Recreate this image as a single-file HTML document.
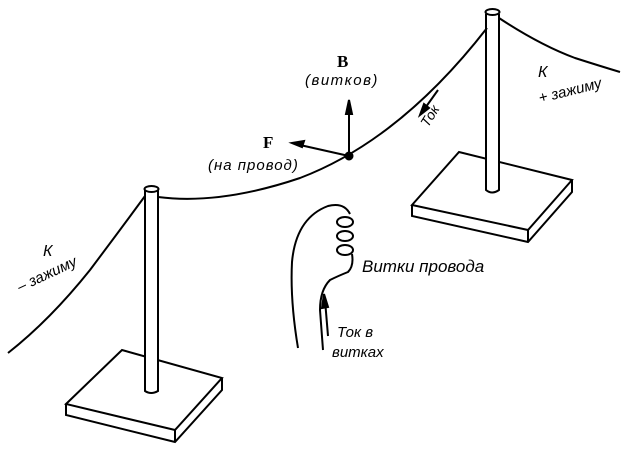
<!DOCTYPE html>
<html><head><meta charset="utf-8"><style>
html,body{margin:0;padding:0;background:#fff;}
svg{display:block}
text{font-family:"Liberation Sans",sans-serif;font-style:italic;fill:#000;font-size:15px}
</style></head><body>
<svg width="621" height="449" viewBox="0 0 621 449" xmlns="http://www.w3.org/2000/svg" fill="none" stroke="#000" stroke-width="2">
<!-- left base -->
<path d="M66 404 L122 350 L222 378 L175 430 Z" fill="#fff"/>
<path d="M66 404 L66 415 L175 442 L222 390 L222 378 M175 430 L175 442"/>
<!-- left pole -->
<path d="M145 190 L145 391 Q151 395 158 391 L158 190" fill="#fff"/>
<ellipse cx="151.5" cy="189" rx="7" ry="3" fill="#fff"/>
<!-- right base -->
<path d="M412 205 L459 152 L572 180 L528 230 Z" fill="#fff"/>
<path d="M412 205 L412 216 L528 242 L572 192 L572 180 M528 230 L528 242"/>
<!-- right pole -->
<path d="M486 14 L486 190 Q492 195 499 190 L499 14" fill="#fff"/>
<ellipse cx="492.5" cy="12" rx="7" ry="3" fill="#fff"/>
<!-- wires -->
<path d="M158 197 Q220 205 300 178 Q400 140 487 28"/>
<path d="M499 18 Q540 45 575 58 Q600 66 620 72"/>
<path d="M145 196 Q120 230 90 270 Q50 320 8 353"/>
<!-- force vectors -->
<circle cx="349" cy="156" r="3.5" fill="#000"/>
<path d="M349 156 L349 108"/>
<path d="M349 100 L346 114 L352 114 Z" fill="#000"/>
<path d="M349 156 L300 145"/>
<path d="M292 143 L304 141 L302 147 Z" fill="#000"/>
<!-- Ток arrow -->
<path d="M438 90 L423 111"/>
<path d="M420 115 L424 104 L429 108 Z" fill="#000"/>
<!-- coil -->
<path d="M298 348 Q290 300 292 262 Q296 218 328 206 Q344 202 350 214"/>
<ellipse cx="345" cy="222" rx="8" ry="5"/>
<ellipse cx="345" cy="236" rx="8" ry="5"/>
<ellipse cx="345" cy="250" rx="8" ry="5"/>
<path d="M352 254 Q354 266 348 272 Q338 276 330 280 Q320 290 320 310 L323 350"/>
<path d="M325 300 L328 336"/>
<path d="M324 294 L322 308 L328 307 Z" fill="#000"/>
<!-- labels -->
<g stroke="none">
<text x="337" y="67" style="font-style:normal;font-weight:bold;font-family:'Liberation Serif',serif;font-size:17px">B</text>
<text x="305" y="85" style="font-size:15px;letter-spacing:1.5px">(витков)</text>
<text x="263" y="148" style="font-style:normal;font-weight:bold;font-family:'Liberation Serif',serif;font-size:17px">F</text>
<text x="208" y="170" style="font-size:15px;letter-spacing:1px">(на провод)</text>
<text x="428" y="128" transform="rotate(-58 428 128)" style="font-size:14px">Ток</text>
<text x="538" y="77" style="font-size:16px">К</text>
<text x="540" y="103" transform="rotate(-14 540 103)" style="font-size:15px">+ зажиму</text>
<text x="43" y="256" style="font-size:16px">К</text>
<text x="20" y="292" transform="rotate(-25 20 292)" style="font-size:15px">– зажиму</text>
<text x="362" y="272" style="font-size:17px">Витки провода</text>
<text x="337" y="337" style="font-size:15px">Ток в</text>
<text x="332" y="357" style="font-size:15px">витках</text>
</g>
</svg>
</body></html>
